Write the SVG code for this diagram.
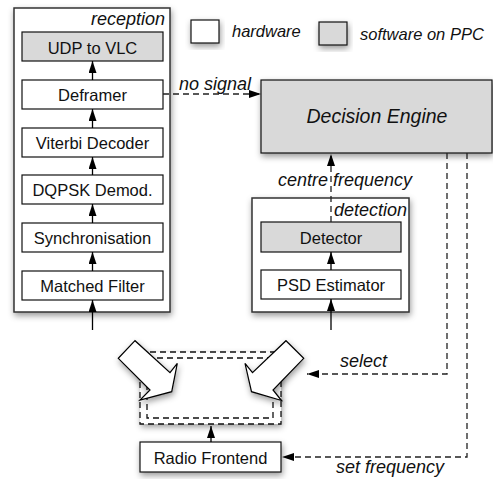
<svg xmlns="http://www.w3.org/2000/svg" width="493" height="479" viewBox="0 0 493 479">
  <defs>
    <filter id="shadow" x="-20%" y="-20%" width="140%" height="150%">
      <feDropShadow dx="1" dy="3" stdDeviation="3" flood-color="#000" flood-opacity="0.4"/>
    </filter>
    <marker id="head" markerUnits="userSpaceOnUse" viewBox="0 0 12 8" refX="12" refY="4" markerWidth="12" markerHeight="8" orient="auto">
      <path d="M0,0 L12,4 L0,8 Z" fill="#000" stroke="none"/>
    </marker>
  </defs>
  <style>
    .container { fill: #fff; stroke: #333; stroke-width: 1.5; }
    .box { fill: #fff; stroke: #111; stroke-width: 1.2; }
    .sw { fill: #d9d9d9; stroke: #111; stroke-width: 1.2; }
    .label { font-family: "Liberation Sans", Arial, Helvetica, sans-serif; font-size: 16.5px; fill: #111; text-anchor: middle; }
    .title { font-family: "Liberation Sans", Arial, Helvetica, sans-serif; font-size: 19.5px; font-style: italic; fill: #111; text-anchor: middle; }
    .note { font-family: "Liberation Sans", Arial, Helvetica, sans-serif; font-size: 18px; font-style: italic; fill: #111; }
    .legend { font-family: "Liberation Sans", Arial, Helvetica, sans-serif; font-size: 16.5px; font-style: italic; fill: #111; }
    .flow { fill: none; stroke: #000; stroke-width: 1.3; marker-end: url(#head); }
    .ctrl { fill: none; stroke: #222; stroke-width: 1.3; stroke-dasharray: 6 4; marker-end: url(#head); }
    .dash { fill: none; stroke: #111; stroke-width: 1.3; stroke-dasharray: 6 4; }
    .big { fill: #fff; stroke: #000; stroke-width: 1.2; stroke-linejoin: miter; }
  </style>

  <!-- legend -->
  <g id="legend">
    <rect x="191" y="20" width="28" height="23" class="box" filter="url(#shadow)"/>
    <text x="232" y="37" class="legend">hardware</text>
    <rect x="319" y="22" width="28" height="23" class="sw" filter="url(#shadow)"/>
    <text x="360" y="40" class="legend">software on PPC</text>
  </g>

  <!-- reception chain -->
  <g id="reception">
    <rect x="14" y="8" width="156" height="304" class="container" filter="url(#shadow)"/>
    <text x="165" y="25" class="note" text-anchor="end">reception</text>
  </g>
  <g id="udp-to-vlc">
    <rect x="22" y="32" width="141" height="29" class="sw"/>
    <text x="92.5" y="54" class="label">UDP to VLC</text>
  </g>
  <g id="deframer">
    <rect x="22" y="80" width="141" height="29" class="box"/>
    <text x="92.5" y="101" class="label">Deframer</text>
  </g>
  <g id="viterbi-decoder">
    <rect x="22" y="128" width="141" height="29" class="box"/>
    <text x="92.5" y="149" class="label">Viterbi Decoder</text>
  </g>
  <g id="dqpsk-demod">
    <rect x="22" y="175" width="141" height="29" class="box"/>
    <text x="92.5" y="196" class="label">DQPSK Demod.</text>
  </g>
  <g id="synchronisation">
    <rect x="22" y="223" width="141" height="29" class="box"/>
    <text x="92.5" y="244" class="label">Synchronisation</text>
  </g>
  <g id="matched-filter">
    <rect x="22" y="271" width="141" height="29" class="box"/>
    <text x="92.5" y="292" class="label">Matched Filter</text>
  </g>

  <!-- detection chain -->
  <g id="detection">
    <rect x="252" y="198" width="157" height="114" class="container" filter="url(#shadow)"/>
    <text x="407" y="216" class="note" text-anchor="end">detection</text>
  </g>
  <g id="detector">
    <rect x="261" y="222" width="140" height="30" class="sw"/>
    <text x="331" y="243.5" class="label">Detector</text>
  </g>
  <g id="psd-estimator">
    <rect x="261" y="270" width="140" height="29" class="box"/>
    <text x="331" y="291" class="label">PSD Estimator</text>
  </g>

  <!-- decision engine -->
  <g id="decision-engine">
    <rect x="261" y="80" width="231" height="73" class="sw" filter="url(#shadow)"/>
    <text x="377" y="123" class="title">Decision Engine</text>
  </g>

  <!-- antenna switch -->
  <g id="switch">
    <rect x="140" y="352" width="141" height="72" fill="#fff" filter="url(#shadow)"/>
    <rect x="140" y="352" width="141" height="72" class="dash"/>
    <rect x="147" y="358" width="126" height="60" class="dash"/>
    <polygon class="big" filter="url(#shadow)" points="135,340.7 118.3,358.3 150,390 140,400 171.7,391.7 177.3,363.3 170,372.7"/>
    <polygon class="big" filter="url(#shadow)" points="286,340.7 303.7,358.3 273,390 281.5,400.5 251.5,391.7 245,363.3 252.5,372.7"/>
  </g>

  <!-- radio frontend -->
  <g id="radio-frontend">
    <rect x="140" y="442" width="141" height="30" class="box" filter="url(#shadow)"/>
    <text x="210.5" y="463.5" class="label">Radio Frontend</text>
  </g>

  <!-- connectors -->
  <g id="connectors">
    <!-- reception data path -->
    <line x1="92.5" y1="330" x2="92.5" y2="300" class="flow"/>
    <line x1="92.5" y1="271" x2="92.5" y2="252" class="flow"/>
    <line x1="92.5" y1="223" x2="92.5" y2="204" class="flow"/>
    <line x1="92.5" y1="175" x2="92.5" y2="157" class="flow"/>
    <line x1="92.5" y1="128" x2="92.5" y2="109" class="flow"/>
    <line x1="92.5" y1="80" x2="92.5" y2="61" class="flow"/>
    <!-- detection data path -->
    <line x1="331" y1="330" x2="331" y2="299" class="flow"/>
    <line x1="331" y1="270" x2="331" y2="252" class="flow"/>
    <!-- frontend to switch -->
    <line x1="211" y1="442" x2="211" y2="426" class="flow"/>
    <!-- control signals -->
    <line x1="163" y1="94" x2="261" y2="94" class="ctrl"/>
    <line x1="331" y1="222" x2="331" y2="154" class="ctrl"/>
    <polyline points="447,153 447,374 307,374" class="ctrl"/>
    <polyline points="467,153 467,457 282,457" class="ctrl"/>
    <text x="179" y="89.5" class="note">no signal</text>
    <text x="278" y="186" class="note">centre frequency</text>
    <text x="340" y="367" class="note">select</text>
    <text x="336" y="473" class="note">set frequency</text>
  </g>
</svg>
